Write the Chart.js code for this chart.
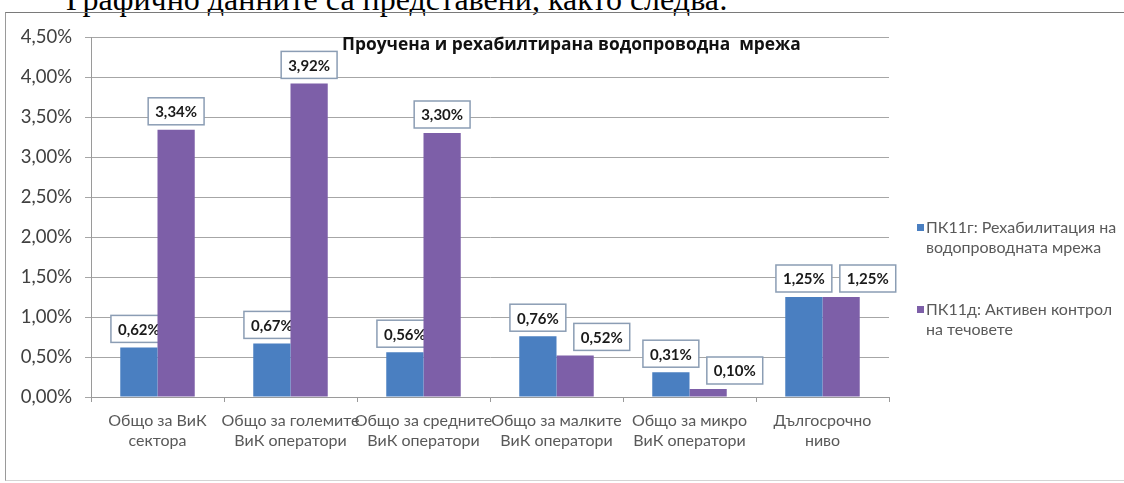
<!DOCTYPE html>
<html lang="bg">
<head>
<meta charset="utf-8">
<title>Проучена и рехабилтирана водопроводна мрежа</title>
<script src="https://cdn.jsdelivr.net/npm/chart.js@4/dist/chart.umd.min.js"></script>
<style>
  html, body { margin: 0; padding: 0; background: #fff; overflow: hidden; }
  body { width: 1124px; height: 483px; position: relative; }
  #lead {
    position: absolute; left: 66px; top: -17px; white-space: pre;
    font-family: "Liberation Serif", serif; font-size: 32px; line-height: 1; color: #000;
  }
  #frame {
    position: absolute; left: 5px; top: 12px; width: 1140px; height: 467px;
    border-top: 1px solid #7a7a7a; border-left: 1px solid #9a9a9a; border-bottom: 1px solid #d4d4d4;
  }
  #chart { position: absolute; left: 0; top: 0; }
  #title {
    position: absolute; left: 342px; top: 33px; white-space: pre; line-height: 20px;
    font-family: "Open Sans", sans-serif; font-weight: bold; font-size: 17px; color: #111;
  }
  #legend { position: absolute; left: 917px; top: 217px; font-family: Lato, sans-serif; font-size: 16px; color: #595959; }
  .item { position: relative; padding-left: 9px; line-height: 20px; white-space: nowrap; }
  .item + .item { margin-top: 42px; }
  .sw { position: absolute; left: 0; top: 7px; width: 7px; height: 7px; }
</style>
</head>
<body>
<div id="lead">Графично данните са представени, както следва:</div>
<div id="frame"></div>
<canvas id="chart" width="1124" height="483"></canvas>
<div id="title">Проучена и рехабилтирана водопроводна  мрежа</div>
<div id="legend"></div>

<script>
const categories = [
  ['Общо за ВиК', 'сектора'],
  ['Общо за големите', 'ВиК оператори'],
  ['Общо за средните', 'ВиК оператори'],
  ['Общо за малките', 'ВиК оператори'],
  ['Общо за микро', 'ВиК оператори'],
  ['Дългосрочно', 'ниво']
];
const seriesNames = [
  ['ПК11г: Рехабилитация на', 'водопроводната мрежа'],
  ['ПК11д: Активен контрол', 'на течовете']
];
const rehabValues = [0.62, 0.67, 0.56, 0.76, 0.31, 1.25];
const leakValues = [3.34, 3.92, 3.30, 0.52, 0.10, 1.25];
const yTicks = [0, 0.5, 1, 1.5, 2, 2.5, 3, 3.5, 4, 4.5];

const BLUE = '#4a7fc1';
const PURPLE = '#7d5fa8';

function pct(v) {
  return v.toFixed(2).replace('.', ',') + '%';
}

// stretch a text element so it spans the given width
function fitWidth(el, target) {
  const fs = parseFloat(getComputedStyle(el).fontSize);
  const w = el.getBoundingClientRect().width;
  el.style.fontSize = (fs * target / w).toFixed(2) + 'px';
}

// box geometry for a value label, centred above its bar
function labelBox(ctx, bar, value) {
  const text = pct(value);
  const w = ctx.measureText(text).width + 14;
  const h = 27;
  return { text, x: bar.x - w / 2, y: bar.y - 5 - h, w, h };
}

function drawBox(ctx, b) {
  ctx.fillStyle = '#fff';
  ctx.fillRect(b.x, b.y, b.w, b.h);
  ctx.lineWidth = 1.5;
  ctx.strokeStyle = '#8b9db4';
  ctx.strokeRect(b.x, b.y, b.w, b.h);
  ctx.fillStyle = '#1a1a1a';
  ctx.fillText(b.text, b.x + b.w / 2, b.y + b.h / 2 + 1);
}

function drawBoxedLabels(chart, datasetIndex) {
  const ctx = chart.ctx;
  ctx.save();
  ctx.font = 'bold 15px Lato, sans-serif';
  ctx.textAlign = 'center';
  ctx.textBaseline = 'middle';
  const bars = chart.getDatasetMeta(datasetIndex).data;
  const data = chart.data.datasets[datasetIndex].data;
  bars.forEach((bar, i) => {
    const b = labelBox(ctx, bar, data[i]);
    if (datasetIndex === 1) {
      // move purple label to the right when it would collide with the blue one
      const prev = labelBox(ctx, chart.getDatasetMeta(0).data[i], chart.data.datasets[0].data[i]);
      const overlapX = b.x < prev.x + prev.w && prev.x < b.x + b.w;
      const overlapY = b.y < prev.y + prev.h && prev.y < b.y + b.h;
      if (overlapX && overlapY) b.x = prev.x + prev.w + 8;
    }
    drawBox(ctx, b);
  });
  ctx.restore();
}

// blue labels go under the purple bars, purple labels on top of everything
const boxedLabels = {
  id: 'boxedLabels',
  beforeDatasetsDraw(chart) { drawBoxedLabels(chart, 0); },
  afterDatasetsDraw(chart) { drawBoxedLabels(chart, 1); }
};

const chart = new Chart(document.getElementById('chart'), {
  type: 'bar',
  data: {
    labels: categories,
    datasets: [
      { label: seriesNames[0].join(' '), data: rehabValues, backgroundColor: BLUE },
      { label: seriesNames[1].join(' '), data: leakValues, backgroundColor: PURPLE }
    ]
  },
  options: {
    responsive: false,
    animation: false,
    events: [],
    categoryPercentage: 0.56,
    barPercentage: 1,
    layout: { padding: { top: 37, right: 235, bottom: 0, left: 0 } },
    plugins: {
      legend: { display: false },
      title: { display: false },
      tooltip: { enabled: false }
    },
    scales: {
      x: {
        grid: { drawOnChartArea: false, drawTicks: true, tickLength: 5, color: '#9a9a9a', offset: true },
        border: { display: true, color: '#9a9a9a' },
        ticks: {
          autoSkip: false, maxRotation: 0, minRotation: 0, padding: 9,
          color: '#595959', font: { family: 'Lato, sans-serif', size: 16, lineHeight: 1.25 }
        },
        afterFit(scale) { scale.height = 86; }
      },
      y: {
        min: 0,
        max: 4.5,
        afterBuildTicks(scale) { scale.ticks = yTicks.map(v => ({ value: v })); },
        grid: { color: '#a6a6a6', tickLength: 6 },
        border: { display: true, color: '#9a9a9a' },
        ticks: {
          padding: 13, color: '#404040',
          font: { family: 'Lato, sans-serif', size: 18.5 },
          callback: v => pct(v)
        },
        afterFit(scale) { scale.width = 91; }
      }
    }
  },
  plugins: [boxedLabels]
});

// legend with wrapped names, built from the chart datasets
const legend = document.getElementById('legend');
chart.data.datasets.forEach((ds, i) => {
  const item = document.createElement('div');
  item.className = 'item';
  const sw = document.createElement('span');
  sw.className = 'sw';
  sw.style.background = ds.backgroundColor;
  item.appendChild(sw);
  seriesNames[i].forEach(line => {
    const d = document.createElement('div');
    d.textContent = line;
    item.appendChild(d);
  });
  legend.appendChild(item);
});

fitWidth(document.getElementById('lead'), 662);
fitWidth(document.getElementById('title'), 459);
</script>
</body>
</html>
